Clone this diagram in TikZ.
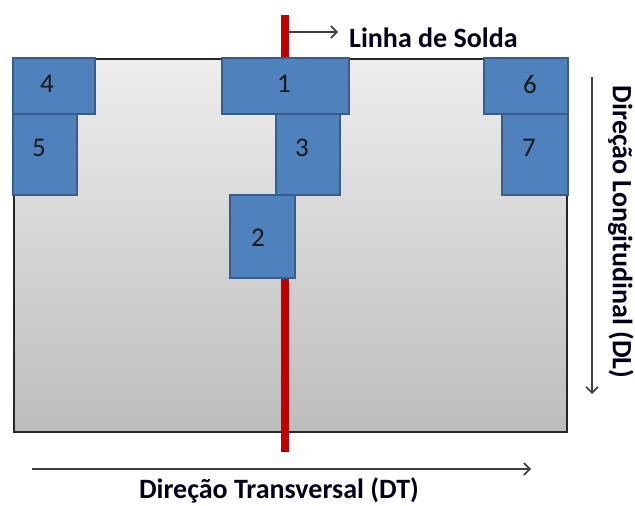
\documentclass[tikz,border=0pt]{standalone}
\usepackage{fontspec}
\setmainfont{Carlito}
\usetikzlibrary{arrows.meta}
\definecolor{boxfill}{HTML}{4F81BD}
\definecolor{boxline}{HTML}{385D8A}
\definecolor{weld}{HTML}{C00000}
\definecolor{arrowgray}{HTML}{404040}
\begin{document}
\begin{tikzpicture}[x=1pt,y=-1pt,
  boxst/.style={draw=boxline, fill=boxfill, line width=1.8pt, inner sep=0pt, anchor=north west},
  numst/.style={font=\fontsize{27}{29}\selectfont, text=black!90, inner sep=0pt},
  lblst/.style={font=\fontsize{28}{30}\selectfont\bfseries, text=black!90!blue, inner sep=0pt},
  arrst/.style={draw=arrowgray, line width=1.6pt, -{Straight Barb[length=6pt,width=12pt,line width=1.6pt]}}]
\useasboundingbox (0,0) rectangle (635,506);
% plate
\shade[top color=black!7, bottom color=black!26] (14,59) rectangle (567,432);
\draw[line width=1.8pt, draw=black!85] (14,59) rectangle (567,432);
% weld line
\coordinate (wtop) at (285,15);
\coordinate (wbot) at (285,452);
\draw[weld, line width=8pt] (wtop) -- (wbot);
% boxes
\node[boxst, minimum width=82pt, minimum height=56pt] (b4) at (12,57) {};
\node[boxst, minimum width=64pt, minimum height=81pt] (b5) at (12,113) {};
\node[boxst, minimum width=127pt, minimum height=56pt] (b1) at (221,57) {};
\node[boxst, minimum width=64pt, minimum height=81pt] (b3) at (275,113) {};
\node[boxst, minimum width=65pt, minimum height=83pt] (b2) at (229,194) {};
\node[boxst, minimum width=84pt, minimum height=56pt] (b6) at (483,57) {};
\node[boxst, minimum width=66pt, minimum height=81pt] (b7) at (501,113) {};
% numbers
\node[numst] (n4) at (47,84) {4};
\node[numst] (n5) at (39,148) {5};
\node[numst] (n1) at (284,84) {1};
\node[numst] (n3) at (302,148) {3};
\node[numst] (n2) at (258,238) {2};
\node[numst] (n6) at (530,84) {6};
\node[numst] (n7) at (529,148) {7};
% weld label
\coordinate (warr) at (289,32);
\coordinate (warrend) at (338,32);
\node[lblst, anchor=west] (solda) at (349,38) {Linha de Solda};
\draw[arrst, line width=1.3pt] (warr) -- (warrend);
% transverse direction
\coordinate (dt1) at (32,469);
\coordinate (dt2) at (531,469);
\draw[arrst] (dt1) -- (dt2);
\node[lblst] (dt) at (279,490) {Direção Transversal (DT)};
% longitudinal direction
\coordinate (dl1) at (592,77);
\coordinate (dl2) at (592,394);
\draw[arrst] (dl1) -- (dl2);
\node[lblst, rotate=-90] (dl) at (621,232) {Direção Longitudinal (DL)};
\end{tikzpicture}
\end{document}
